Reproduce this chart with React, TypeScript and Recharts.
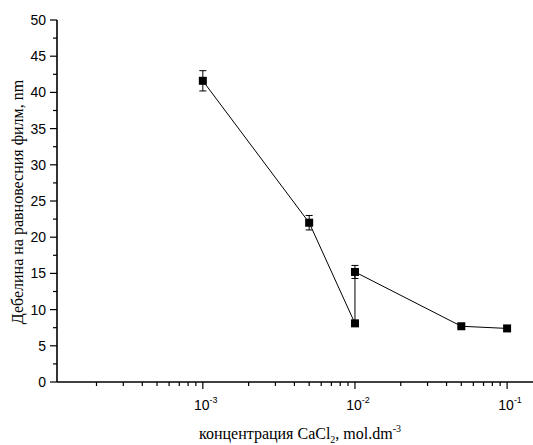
import React from "react";
import { LineChart, Line, XAxis, YAxis, ErrorBar, Label } from "recharts";

const concentrations = [0.001, 0.005, 0.01, 0.01, 0.05, 0.1];
const thickness = [41.6, 22.0, 8.1, 15.2, 7.7, 7.4];
const thicknessErr = [1.4, 1.0, 0, 0.9, 0, 0];

const xMajorTicks = [0.001, 0.01, 0.1];
const xMinorTicks = [
  0.0002, 0.0003, 0.0004, 0.0005, 0.0006, 0.0007, 0.0008, 0.0009,
  0.002, 0.003, 0.004, 0.005, 0.006, 0.007, 0.008, 0.009,
  0.02, 0.03, 0.04, 0.05, 0.06, 0.07, 0.08, 0.09,
];
const xTickLabels = ["-3", "-2", "-1"];
const yMajorTicks = [0, 5, 10, 15, 20, 25, 30, 35, 40, 45, 50];
const yMinorTicks = [2.5, 7.5, 12.5, 17.5, 22.5, 27.5, 32.5, 37.5, 42.5, 47.5];

const data = concentrations.map((c, i) => ({
  x: c,
  y: thickness[i],
  err: thicknessErr[i],
}));

const allXTicks = [...xMinorTicks, ...xMajorTicks].sort((a, b) => a - b);
const allYTicks = [...yMinorTicks, ...yMajorTicks].sort((a, b) => a - b);

const sans = "'Liberation Sans', Arial, sans-serif";
const serif = "'Liberation Serif', 'Times New Roman', serif";

const XTick = (props: any) => {
  const { x, y, payload } = props;
  const idx = xMajorTicks.indexOf(payload.value);
  const major = idx >= 0;
  return (
    <g>
      <line x1={x} y1={y} x2={x} y2={y + (major ? 7 : 4)} stroke="#000" strokeWidth={1.2} />
      {major && (
        <text x={x + 3} y={y + 28} textAnchor="middle" style={{ fontFamily: sans, fontSize: 14 }} fill="#000">
          10
          <tspan dy={-7} style={{ fontSize: 9 }}>
            {xTickLabels[idx]}
          </tspan>
        </text>
      )}
    </g>
  );
};

const YTick = (props: any) => {
  const { x, y, payload } = props;
  const major = yMajorTicks.includes(payload.value);
  return (
    <g>
      <line x1={x} y1={y} x2={x - (major ? 7 : 4)} y2={y} stroke="#000" strokeWidth={1.2} />
      {major && (
        <text x={x - 11} y={y + 5} textAnchor="end" style={{ fontFamily: sans, fontSize: 14 }} fill="#000">
          {payload.value}
        </text>
      )}
    </g>
  );
};

const XTitle = () => (
  <text x={300} y={439} textAnchor="middle" style={{ fontFamily: serif, fontSize: 16 }} fill="#000">
    концентрация CaCl
    <tspan dy={4} style={{ fontSize: 10 }}>2</tspan>
    <tspan dy={-4}>, mol.dm</tspan>
    <tspan dy={-7} style={{ fontSize: 10 }}>-3</tspan>
  </text>
);

const YTitle = () => (
  <text
    x={0}
    y={0}
    transform="translate(23, 202) rotate(-90)"
    textAnchor="middle"
    style={{ fontFamily: serif, fontSize: 16 }}
    fill="#000"
  >
    Дебелина на равновесния филм, nm
  </text>
);

const SquareDot = (props: any) => {
  const { cx, cy } = props;
  if (cx == null || cy == null) return null;
  return <rect x={cx - 4} y={cy - 4} width={8} height={8} fill="#000" />;
};

export default function App() {
  return (
    <div style={{ position: "absolute", top: 0, left: 0, width: 533, height: 445, background: "#fff", overflow: "hidden" }}>
      <LineChart width={533} height={445} data={data} margin={{ top: 20, right: 0, bottom: 0, left: 0 }}>
        <XAxis
          dataKey="x"
          type="number"
          scale="log"
          domain={[0.00011, 0.148]}
          allowDataOverflow
          ticks={allXTicks}
          interval={0}
          tick={<XTick />}
          tickSize={0}
          tickMargin={0}
          tickLine={false}
          axisLine={{ stroke: "#000", strokeWidth: 1.6 }}
          height={63}
        >
          <Label content={<XTitle />} />
        </XAxis>
        <YAxis
          type="number"
          domain={[0, 50]}
          ticks={allYTicks}
          interval={0}
          tick={<YTick />}
          tickSize={0}
          tickMargin={0}
          tickLine={false}
          axisLine={{ stroke: "#000", strokeWidth: 1.6 }}
          width={57}
        >
          <Label content={<YTitle />} />
        </YAxis>
        <Line
          dataKey="y"
          stroke="#000"
          strokeWidth={1}
          dot={<SquareDot />}
          activeDot={false}
          isAnimationActive={false}
        >
          <ErrorBar dataKey="err" direction="y" width={3.5} stroke="#000" strokeWidth={1} />
        </Line>
      </LineChart>
    </div>
  );
}
